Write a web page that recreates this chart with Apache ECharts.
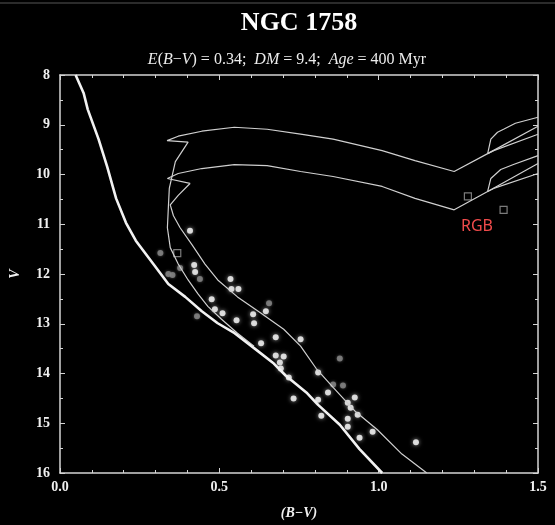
<!DOCTYPE html>
<html>
<head>
    <meta charset="utf-8">
    <title>NGC 1758</title>
    <style>
        html, body {margin: 0; padding: 0; background: #000;}
    </style>
</head>
<body>
<div id="main" style="width:555px;height:525px;"></div>
<script src="https://cdn.jsdelivr.net/npm/echarts@6.0.0/dist/echarts.min.js"></script>
<script type="text/javascript">
// axis ranges
var colorMin = 0.0, colorMax = 1.5;
var magMin = 8, magMax = 16;

// thick line (ZAMS), [B-V, V]
var zamsLine = [
    [0.049, 8.00], [0.074, 8.36], [0.087, 8.69], [0.121, 9.29], [0.148, 9.84],
    [0.176, 10.48], [0.207, 10.97], [0.238, 11.33], [0.300, 11.86], [0.340, 12.20],
    [0.393, 12.46], [0.445, 12.75], [0.495, 12.99], [0.548, 13.19], [0.609, 13.49],
    [0.671, 13.80], [0.708, 14.04], [0.773, 14.38], [0.810, 14.63], [0.878, 15.03],
    [0.940, 15.52], [1.011, 16.00]
];

// upper isochrone (inner MS -> hook -> upper band -> RGB)
var isoUpper = [
    [0.609, 13.45], [0.557, 13.19], [0.507, 12.91], [0.464, 12.65], [0.433, 12.40],
    [0.402, 12.12], [0.371, 11.80], [0.346, 11.47], [0.337, 11.07], [0.340, 10.67],
    [0.343, 10.28], [0.362, 9.74], [0.402, 9.35], [0.336, 9.32], [0.371, 9.23],
    [0.445, 9.13], [0.547, 9.05], [0.650, 9.09], [0.755, 9.19], [0.857, 9.29],
    [1.011, 9.52], [1.114, 9.72], [1.237, 9.94], [1.342, 9.58], [1.50, 9.03]
];
var isoUpperBranch = [[1.342, 9.58], [1.361, 9.52], [1.50, 9.19]];
var isoUpperLoop = [[1.342, 9.58], [1.352, 9.29], [1.373, 9.15], [1.392, 9.09], [1.429, 8.97], [1.50, 8.85]];

// lower isochrone (outer MS -> hook -> lower band -> RGB)
var isoLower = [
    [1.151, 16.00], [1.073, 15.62], [0.996, 15.13], [0.928, 14.77], [0.857, 14.28],
    [0.804, 13.90], [0.755, 13.45], [0.702, 13.11], [0.631, 12.79], [0.557, 12.46],
    [0.495, 12.12], [0.455, 11.80], [0.414, 11.41], [0.377, 11.07], [0.356, 10.83],
    [0.346, 10.61], [0.371, 10.42], [0.408, 10.18], [0.337, 10.08], [0.371, 9.98],
    [0.445, 9.88], [0.547, 9.80], [0.650, 9.82], [0.755, 9.94], [0.857, 10.04],
    [1.011, 10.24], [1.114, 10.48], [1.237, 10.71], [1.342, 10.34], [1.50, 9.78]
];
var isoLowerBranch = [[1.342, 10.34], [1.361, 10.28], [1.50, 9.98]];
var isoLowerLoop = [[1.342, 10.34], [1.352, 10.08], [1.383, 9.90], [1.423, 9.80], [1.50, 9.62]];

// observed stars
var brightStars = [
    [0.408, 11.13], [0.421, 11.82], [0.424, 11.96], [0.535, 12.10], [0.538, 12.30],
    [0.560, 12.30], [0.476, 12.51], [0.486, 12.71], [0.510, 12.79], [0.554, 12.93],
    [0.606, 12.81], [0.609, 12.99], [0.646, 12.75], [0.677, 13.27], [0.755, 13.31],
    [0.631, 13.39], [0.677, 13.64], [0.690, 13.78], [0.702, 13.66], [0.693, 13.90],
    [0.718, 14.08], [0.810, 13.98], [0.733, 14.50], [0.810, 14.53], [0.841, 14.38],
    [0.925, 14.48], [0.903, 14.59], [0.912, 14.69], [0.934, 14.83], [0.820, 14.85],
    [0.903, 14.91], [0.903, 15.07], [0.981, 15.17], [0.940, 15.29], [1.117, 15.38]
];
var faintStars = [
    [0.315, 11.58], [0.340, 12.00], [0.353, 12.02], [0.377, 11.88], [0.439, 12.10],
    [0.430, 12.85], [0.656, 12.59], [0.878, 13.70], [0.857, 14.22], [0.888, 14.24]
];
var squareStars = [[0.368, 11.58], [1.280, 10.44], [1.392, 10.71]];

var xTickLabels = ['0.0', '0.5', '1.0', '1.5'];

var myChart = echarts.init(document.getElementById('main'));

var frameColor = '#d4d4d4';
var serif = '"Liberation Serif", "DejaVu Serif", serif';

function lineSeries(data, width, color) {
    return {
        type: 'line',
        data: data,
        showSymbol: false,
        symbol: 'none',
        smooth: false,
        clip: true,
        silent: true,
        lineStyle: { color: color, width: width }
    };
}

function frameAxis(pos, isX) {
    var ax = {
        type: 'value',
        position: pos,
        min: isX ? colorMin : magMin,
        max: isX ? colorMax : magMax,
        interval: isX ? 0.5 : 1,
        inverse: !isX,
        axisLine: { show: true, onZero: false, lineStyle: { color: frameColor, width: 1.5 } },
        axisTick: { show: true, inside: true, length: 5, lineStyle: { color: frameColor, width: 1 } },
        minorTick: { show: true, splitNumber: isX ? 5 : 2, length: 3, lineStyle: { color: frameColor, width: 1 } },
        splitLine: { show: false },
        axisLabel: { show: false }
    };
    return ax;
}

var xBottom = frameAxis('bottom', true);
xBottom.axisLabel = {
    show: true, color: '#f0f0f0', fontFamily: serif, fontWeight: 'bold', fontSize: 14, margin: 7,
    formatter: function (v) { return xTickLabels[Math.round(v / 0.5)]; }
};
xBottom.name = '(B\u2212V)';
xBottom.nameLocation = 'middle';
xBottom.nameGap = 33;
xBottom.nameTextStyle = { color: '#f0f0f0', fontFamily: serif, fontStyle: 'italic', fontWeight: 'bold', fontSize: 14 };

var yLeft = frameAxis('left', false);
yLeft.axisLabel = { show: true, color: '#f0f0f0', fontFamily: serif, fontWeight: 'bold', fontSize: 14, margin: 10 };
yLeft.name = 'V';
yLeft.nameLocation = 'middle';
yLeft.nameGap = 38;
yLeft.nameTextStyle = { color: '#f0f0f0', fontFamily: serif, fontStyle: 'italic', fontWeight: 'bold', fontSize: 14 };

var option = {
    backgroundColor: '#000',
    animation: false,
    title: [{
        text: 'NGC 1758',
        left: 294, top: 5,
        textAlign: 'center',
        textStyle: { color: '#fff', fontFamily: serif, fontWeight: 'bold', fontSize: 26 }
    }, {
        text: '{i|E}{n|(}{i|B}{n|\u2212}{i|V}{n|) = 0.34;  }{i|DM}{n| = 9.4;  }{i|Age}{n| = 400 Myr}',
        left: 282, top: 47,
        textAlign: 'center',
        textStyle: {
            color: '#fff',
            fontWeight: 'normal',
            rich: {
                i: { color: '#ececec', fontFamily: serif, fontStyle: 'italic', fontWeight: 'normal', fontSize: 16 },
                n: { color: '#ececec', fontFamily: serif, fontWeight: 'normal', fontSize: 16 }
            }
        }
    }],
    grid: { left: 53, top: 75, right: 17, bottom: 46, containLabel: false },
    xAxis: [xBottom, frameAxis('top', true)],
    yAxis: [yLeft, frameAxis('right', false)],
    graphic: [{
        type: 'line',
        shape: { x1: 0, y1: 3, x2: 555, y2: 3 },
        style: { stroke: '#3a3a3a', lineWidth: 1.5 }
    }, {
        type: 'text',
        left: 461, top: 218,
        style: { text: 'RGB', fill: '#f04b4b', font: '16px "Noto Sans", sans-serif' }
    }],
    series: [
        lineSeries(isoUpper, 1.2, '#cfcfcf'),
        lineSeries(isoUpperBranch, 1.2, '#cfcfcf'),
        lineSeries(isoUpperLoop, 1.2, '#cfcfcf'),
        lineSeries(isoLower, 1.2, '#cfcfcf'),
        lineSeries(isoLowerBranch, 1.2, '#cfcfcf'),
        lineSeries(isoLowerLoop, 1.2, '#cfcfcf'),
        lineSeries(zamsLine, 2.6, '#f2f2f2'),
        {
            type: 'scatter', data: faintStars, symbol: 'circle', symbolSize: 6, silent: true,
            itemStyle: { color: '#8a8a8a', shadowBlur: 3, shadowColor: '#666' }
        },
        {
            type: 'scatter', data: brightStars, symbol: 'circle', symbolSize: 6, silent: true,
            itemStyle: { color: '#ffffff', shadowBlur: 4, shadowColor: '#bbb' }
        },
        {
            type: 'scatter', data: squareStars, symbol: 'rect', symbolSize: 7, silent: true,
            itemStyle: { color: 'transparent', borderColor: '#9a9a9a', borderWidth: 1.2 }
        }
    ]
};

myChart.setOption(option);
</script>
</body>
</html>
